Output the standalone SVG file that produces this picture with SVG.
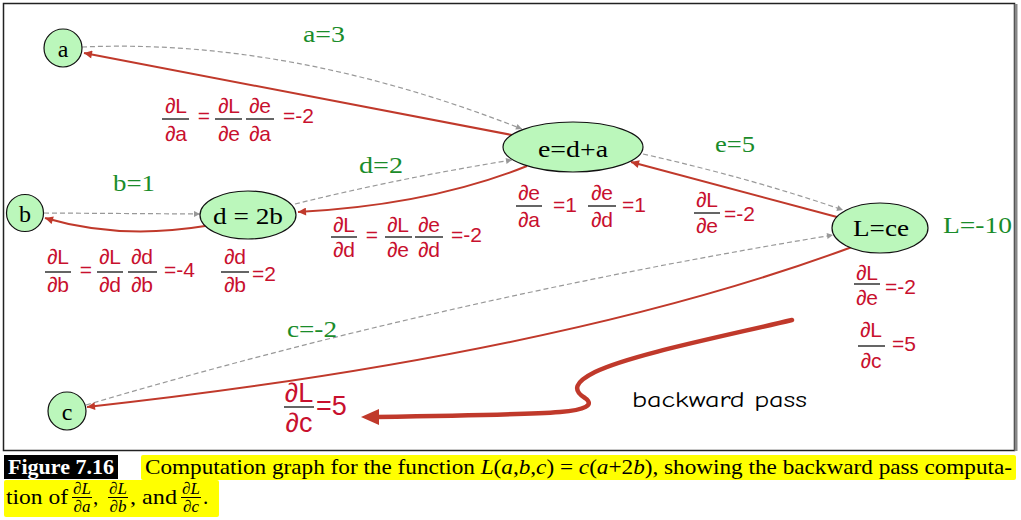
<svg xmlns="http://www.w3.org/2000/svg" width="1021" height="520" viewBox="0 0 1021 520">
<style>
.node{fill:#bbf7bb;stroke:#111;stroke-width:1.2}
.nt{font-family:"Liberation Serif",serif;font-size:24px;fill:#000;text-anchor:middle}
.gl{font-family:"Liberation Serif",serif;font-size:24px;fill:#1a8c2a}
.fw{fill:none;stroke:#999;stroke-width:1.2;stroke-dasharray:5,3}
.bw{fill:none;stroke:#c0392b;stroke-width:2}
.rd{font-family:"Liberation Sans",Arial,sans-serif;font-size:21px;fill:#c8102e}
.rc{font-family:"Liberation Sans",Arial,sans-serif;font-size:21px;fill:#c8102e;text-anchor:middle}
.bar{stroke:#111;stroke-width:1.3}
.cap{font-family:"Liberation Serif",serif;font-size:21px;fill:#000}
.cf{font-family:"Liberation Serif",serif;font-size:17px;font-style:italic;fill:#000;text-anchor:middle}
</style>
<defs>
<marker id="ag" viewBox="0 0 10 10" refX="10" refY="5" markerWidth="8" markerHeight="6" markerUnits="userSpaceOnUse" orient="auto"><path d="M0,0 L10,5 L0,10 z" fill="#999"/></marker>
<marker id="ar" viewBox="0 0 10 10" refX="10" refY="5" markerWidth="11" markerHeight="8" markerUnits="userSpaceOnUse" orient="auto"><path d="M0,0 L10,5 L0,10 z" fill="#c0392b"/></marker>
</defs>
<rect x="0" y="0" width="1021" height="520" fill="#fff"/>
<rect x="3.5" y="3.5" width="1011" height="447" fill="#fff" stroke="#222" stroke-width="1.5"/>
<line x1="1016" y1="4" x2="1016" y2="451" stroke="#888" stroke-width="3"/>

<g id="connectors">
<path class="fw" d="M82,47 Q290,38 522,129" marker-end="url(#ag)"/>
<path class="fw" d="M44,213 L200,214" marker-end="url(#ag)"/>
<path class="fw" d="M295,204 Q400,178 512,160" marker-end="url(#ag)"/>
<path class="fw" d="M643,154 Q750,178 843,210" marker-end="url(#ag)"/>
<path class="fw" d="M86,405 Q440,300 833,235" marker-end="url(#ag)"/>
<path class="bw" d="M512,135 L84,53" marker-end="url(#ar)"/>
<path class="bw" d="M527,166 Q430,205 298,212" marker-end="url(#ar)"/>
<path class="bw" d="M837,217 L631,162" marker-end="url(#ar)"/>
<path class="bw" d="M205,226 Q120,240 45,218" marker-end="url(#ar)"/>
<path class="bw" d="M852,247 Q560,355 87,407" marker-end="url(#ar)"/>
<path d="M792,320 C720,337 630,355 595,372 C575,382 572,390 585,398 C595,405 585,410 560,412 C520,415 450,416 376,417" fill="none" stroke="#c0392b" stroke-width="4.5" stroke-linecap="round"/>
<path d="M361,417 L379,409 L379,425 z" fill="#c0392b"/>
</g>

<g id="node-a"><circle class="node" cx="63" cy="48" r="19"/><text class="nt" x="63" y="57">a</text></g>
<g id="node-b"><circle class="node" cx="25" cy="213" r="18.5"/><text class="nt" x="25" y="222">b</text></g>
<g id="node-c"><circle class="node" cx="67" cy="411" r="19"/><text class="nt" x="67" y="420">c</text></g>
<g id="node-d"><ellipse class="node" cx="248" cy="215" rx="48" ry="24"/><text class="nt" x="248" y="224" textLength="70" lengthAdjust="spacingAndGlyphs">d = 2b</text></g>
<g id="node-e"><ellipse class="node" cx="573" cy="147" rx="70" ry="25"/><text class="nt" x="573" y="157" textLength="70" lengthAdjust="spacingAndGlyphs">e=d+a</text></g>
<g id="node-L"><ellipse class="node" cx="880" cy="228" rx="48" ry="25"/><text class="nt" x="881" y="236" textLength="56" lengthAdjust="spacingAndGlyphs">L=ce</text></g>

<g id="values">
<text class="gl" x="303" y="42" textLength="42" lengthAdjust="spacingAndGlyphs">a=3</text>
<text class="gl" x="715" y="152" textLength="40" lengthAdjust="spacingAndGlyphs">e=5</text>
<text class="gl" x="359" y="173" textLength="44" lengthAdjust="spacingAndGlyphs">d=2</text>
<text class="gl" x="113" y="191" textLength="42" lengthAdjust="spacingAndGlyphs">b=1</text>
<text class="gl" x="943" y="233" textLength="69" lengthAdjust="spacingAndGlyphs">L=-10</text>
<text class="gl" x="287" y="337" textLength="50" lengthAdjust="spacingAndGlyphs">c=-2</text>
</g>

<g id="grad-a">
<text class="rc" x="176" y="113">∂L</text><line class="bar" x1="162" y1="119" x2="189" y2="119"/><text class="rc" x="176" y="141">∂a</text>
<text class="rc" x="204" y="123">=</text>
<text class="rc" x="229" y="113">∂L</text><line class="bar" x1="215" y1="119" x2="242" y2="119"/><text class="rc" x="229" y="141">∂e</text>
<text class="rc" x="260" y="113">∂e</text><line class="bar" x1="246" y1="119" x2="274" y2="119"/><text class="rc" x="260" y="141">∂a</text>
<text class="rd" x="283" y="123">=-2</text>
</g>
<g id="grad-d">
<text class="rc" x="344" y="232">∂L</text><line class="bar" x1="331" y1="237" x2="357" y2="237"/><text class="rc" x="344" y="257">∂d</text>
<text class="rc" x="372" y="242">=</text>
<text class="rc" x="398" y="232">∂L</text><line class="bar" x1="385" y1="237" x2="412" y2="237"/><text class="rc" x="398" y="257">∂e</text>
<text class="rc" x="429" y="232">∂e</text><line class="bar" x1="415" y1="237" x2="443" y2="237"/><text class="rc" x="429" y="257">∂d</text>
<text class="rd" x="451" y="242">=-2</text>
</g>
<g id="grad-e-local">
<text class="rc" x="529" y="200">∂e</text><line class="bar" x1="516" y1="206" x2="542" y2="206"/><text class="rc" x="529" y="227">∂a</text>
<text class="rd" x="553" y="212">=1</text>
<text class="rc" x="602" y="200">∂e</text><line class="bar" x1="588" y1="206" x2="616" y2="206"/><text class="rc" x="602" y="227">∂d</text>
<text class="rd" x="622" y="212">=1</text>
</g>
<g id="grad-e">
<text class="rc" x="707" y="207">∂L</text><line class="bar" x1="694" y1="213" x2="720" y2="213"/><text class="rc" x="707" y="233">∂e</text>
<text class="rd" x="724" y="221">=-2</text>
</g>
<g id="grad-L-local">
<text class="rc" x="867" y="280">∂L</text><line class="bar" x1="854" y1="284" x2="880" y2="284"/><text class="rc" x="867" y="305">∂e</text>
<text class="rd" x="885" y="294">=-2</text>
<text class="rc" x="871" y="337">∂L</text><line class="bar" x1="858" y1="346" x2="885" y2="346"/><text class="rc" x="871" y="368">∂c</text>
<text class="rd" x="892" y="351">=5</text>
</g>
<g id="grad-b">
<text class="rc" x="58" y="264">∂L</text><line class="bar" x1="45" y1="272" x2="71" y2="272"/><text class="rc" x="58" y="292">∂b</text>
<text class="rc" x="86" y="277">=</text>
<text class="rc" x="110" y="264">∂L</text><line class="bar" x1="97" y1="272" x2="123" y2="272"/><text class="rc" x="110" y="292">∂d</text>
<text class="rc" x="142" y="264">∂d</text><line class="bar" x1="128" y1="272" x2="157" y2="272"/><text class="rc" x="142" y="292">∂b</text>
<text class="rd" x="164" y="277">=-4</text>
<text class="rc" x="235" y="264">∂d</text><line class="bar" x1="221" y1="272" x2="249" y2="272"/><text class="rc" x="235" y="292">∂b</text>
<text class="rd" x="252" y="281">=2</text>
</g>
<g id="grad-c">
<text class="rc" x="299" y="402" style="font-size:27px">∂L</text><line class="bar" x1="284" y1="407" x2="314" y2="407"/><text class="rc" x="299" y="432" style="font-size:27px">∂c</text>
<text class="rd" x="316" y="415" style="font-size:27px">=5</text>
</g>
<text x="632" y="407" font-family="'Comic Neue','DejaVu Sans',sans-serif" font-size="22" fill="#000" textLength="175" lengthAdjust="spacingAndGlyphs">backward pass</text>

<g id="caption">
<rect x="4" y="455" width="114" height="24" fill="#000"/>
<text x="8" y="474" font-family="'Liberation Serif',serif" font-size="22" font-weight="bold" fill="#fff" textLength="106" lengthAdjust="spacingAndGlyphs">Figure 7.16</text>
<rect x="141" y="455" width="875" height="25" rx="2" fill="#ffff00"/>
<rect x="4" y="480" width="215" height="37" rx="2" fill="#ffff00"/>
<text class="cap" x="145" y="474" textLength="867" lengthAdjust="spacingAndGlyphs">Computation graph for the function <tspan font-style="italic">L</tspan>(<tspan font-style="italic">a</tspan>,<tspan font-style="italic">b</tspan>,<tspan font-style="italic">c</tspan>) = <tspan font-style="italic">c</tspan>(<tspan font-style="italic">a</tspan>+2<tspan font-style="italic">b</tspan>), showing the backward pass computa-</text>
<text class="cap" x="6" y="504" textLength="62" lengthAdjust="spacingAndGlyphs">tion of</text>
<text class="cf" x="82" y="494">∂L</text><line x1="72" y1="497.5" x2="92" y2="497.5" stroke="#000" stroke-width="1"/><text class="cf" x="82" y="512">∂a</text>
<text class="cap" x="93" y="504">,</text>
<text class="cf" x="118" y="494">∂L</text><line x1="108" y1="497.5" x2="128" y2="497.5" stroke="#000" stroke-width="1"/><text class="cf" x="118" y="512">∂b</text>
<text class="cap" x="130" y="504" textLength="47" lengthAdjust="spacingAndGlyphs">, and</text>
<text class="cf" x="191" y="494">∂L</text><line x1="181" y1="497.5" x2="201" y2="497.5" stroke="#000" stroke-width="1"/><text class="cf" x="191" y="512">∂c</text>
<text class="cap" x="203" y="504">.</text>
</g>
</svg>
